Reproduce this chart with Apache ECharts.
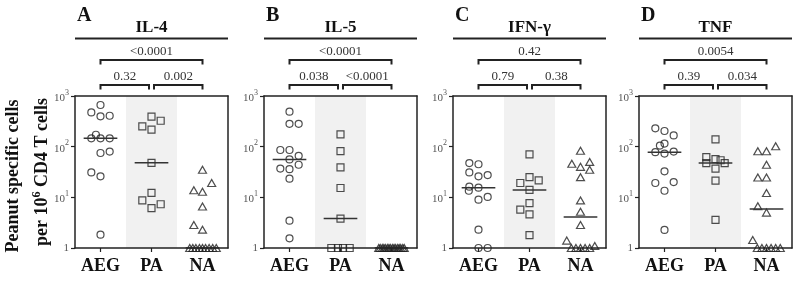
<!DOCTYPE html>
<html>
<head>
<meta charset="utf-8">
<script src="https://cdn.jsdelivr.net/npm/echarts@6/dist/echarts.min.js"></script>
<style>
html, body { margin: 0; padding: 0; background: #fff; }
#main { width: 800px; height: 281px; }
</style>
</head>
<body>
<div id="main"></div>
<script>
const chartDom = document.getElementById('main');
const myChart = echarts.init(chartDom);

// groups on the x axis
const cats = ['AEG', 'PA', 'NA'];
const letters = ['A', 'B', 'C', 'D'];
const cytokines = ['IL-4', 'IL-5', 'IFN-γ', 'TNF'];

// each point: [offset inside its group, peanut specific cells per 10^6 CD4 T cells]
const il4AEG = [[0, 665], [-0.18, 475], [0, 397], [0.18, 408], [-0.09, 172], [-0.18, 146], [0, 146], [0.18, 146],
	[0, 75], [0.18, 80], [-0.18, 31], [0, 26], [0, 1.83]];
const il4PA = [[0, 390], [0.18, 325], [-0.18, 251], [0, 216], [0, 48], [0, 12.2], [-0.18, 8.7], [0.18, 7.3], [0, 6.1]];
const il4NA = [[0, 35], [0.18, 19.2], [-0.17, 13.8], [0, 12.9], [0, 6.6], [-0.17, 2.85], [0, 2.3],
	[-0.25, 1], [-0.19, 1], [-0.13, 1], [-0.06, 1], [0, 1], [0.06, 1], [0.13, 1], [0.2, 1], [0.27, 1]];

const il5AEG = [[0, 490], [0, 283], [0.18, 283], [-0.18, 86], [0, 86], [0.18, 66], [0, 56], [-0.18, 37], [0, 36],
	[0.18, 44], [0, 23.3], [0, 3.46], [0, 1.55]];
const il5PA = [[0, 175], [0, 82], [0, 39], [0, 15.3], [0, 3.8], [-0.18, 1], [-0.05, 1], [0.05, 1], [0.18, 1]];
const il5NA = [[-0.25, 1], [-0.22, 1], [-0.18, 1], [-0.15, 1], [-0.12, 1], [-0.08, 1], [-0.05, 1], [-0.02, 1],
	[0.02, 1], [0.05, 1], [0.08, 1], [0.12, 1], [0.15, 1], [0.18, 1], [0.22, 1], [0.25, 1]];

const ifngAEG = [[-0.18, 47.5], [0, 45], [-0.18, 31], [0, 26], [0.18, 27.5], [-0.18, 16.2], [0, 15.5], [-0.19, 13.5],
	[0, 9], [0.18, 10.2], [0, 2.3], [0, 1], [0.18, 1]];
const ifngPA = [[0, 70.5], [0, 25], [-0.18, 19.2], [0.18, 21.7], [0, 14], [0, 7.7], [-0.18, 5.7], [0, 4.6], [0, 1.8]];
const ifngNA = [[0, 83], [-0.17, 46], [0, 40], [0.18, 50], [0.18, 35], [0, 25], [0, 8.7], [0, 5.2], [0, 2.85],
	[-0.27, 1.4], [-0.18, 1], [-0.09, 1], [0, 1], [0.09, 1], [0.18, 1], [0.28, 1.1]];

const tnfAEG = [[-0.18, 230], [0, 204], [0.18, 167], [-0.09, 105], [0, 115], [-0.18, 78], [0, 73], [0.18, 80],
	[0, 32.6], [-0.18, 19.2], [0.18, 20], [0, 13.5], [0, 2.27]];
const tnfPA = [[0, 139], [-0.18, 62], [0, 57], [0.1, 54], [-0.18, 47.5], [0.18, 47.5], [0, 37], [0, 21.3], [0, 3.6]];
const tnfNA = [[0.18, 102], [-0.17, 81], [0, 81], [0, 44], [-0.17, 24.7], [0, 24.7], [0, 12.2], [-0.17, 6.7], [0, 5.0],
	[-0.27, 1.44], [-0.18, 1], [-0.09, 1], [0, 1], [0.09, 1], [0.18, 1], [0.27, 1]];

// medians per group (AEG, PA, NA)
const il4Med = [146, 48, 1];
const il5Med = [56, 3.8, 1];
const ifngMed = [15.5, 14, 4.1];
const tnfMed = [78, 47.5, 5.9];

// p values: AEG vs NA (top), AEG vs PA, PA vs NA
const pTop = ['<0.0001', '<0.0001', '0.42', '0.0054'];
const pAegPa = ['0.32', '0.038', '0.79', '0.39'];
const pPaNa = ['0.002', '<0.0001', '0.38', '0.034'];

const panelData = [
	[il4AEG, il4PA, il4NA, il4Med],
	[il5AEG, il5PA, il5NA, il5Med],
	[ifngAEG, ifngPA, ifngNA, ifngMed],
	[tnfAEG, tnfPA, tnfNA, tnfMed]
];

const gridLefts = [75, 264, 453, 639];
const serif = '"Liberation Serif", "Times New Roman", serif';
const ink = '#222';
const symbols = ['circle', 'rect', 'triangle'];
const symbolSizes = [7, 7, [8, 7]];

const grids = [], xAxes = [], yAxes = [], series = [];

panelData.forEach((pd, i) => {
	grids.push({ left: gridLefts[i], top: 96, width: 153, height: 152 });
	xAxes.push({
		type: 'category', gridIndex: i, data: cats, boundaryGap: true, position: 'bottom', z: 5,
		axisLine: { show: true, lineStyle: { color: ink, width: 1.5 } },
		axisTick: { show: true, alignWithLabel: true, length: 4, lineStyle: { color: ink, width: 1.2 } },
		axisLabel: { fontFamily: serif, fontWeight: 'bold', fontSize: 18, color: '#111', margin: 9 },
		splitLine: { show: false }
	});
	xAxes.push({
		type: 'value', gridIndex: i, min: 0, max: 3, position: 'top', z: 5,
		axisLine: { show: true, lineStyle: { color: ink, width: 1.5 } },
		axisTick: { show: false }, axisLabel: { show: false }, splitLine: { show: false }
	});
	yAxes.push({
		type: 'log', logBase: 10, gridIndex: i, min: 1, max: 1000, position: 'left', z: 5,
		axisLine: { show: true, lineStyle: { color: ink, width: 1.5 } },
		axisTick: { show: true, length: 4, lineStyle: { color: ink, width: 1.2 } },
		axisLabel: {
			margin: 6,
			formatter: (v) => v === 1 ? '{n|1}' : '{n|10}{s|' + Math.round(Math.log10(v)) + '}',
			rich: {
				n: { fontFamily: serif, fontSize: 11, color: '#555', verticalAlign: 'bottom' },
				s: { fontFamily: serif, fontSize: 8, color: '#555', verticalAlign: 'bottom', padding: [0, 0, 7, 0] }
			}
		},
		splitLine: { show: false }, minorTick: { show: false }
	});
	yAxes.push({
		type: 'log', logBase: 10, gridIndex: i, min: 1, max: 1000, position: 'right', z: 5,
		axisLine: { show: true, lineStyle: { color: ink, width: 1.5 } },
		axisTick: { show: false }, axisLabel: { show: false }, splitLine: { show: false }
	});

	for (let g = 0; g < 3; g++) {
		const s = {
			type: 'scatter', name: cytokines[i] + ' ' + cats[g],
			xAxisIndex: 2 * i + 1, yAxisIndex: 2 * i, clip: false, z: 3,
			symbol: symbols[g], symbolSize: symbolSizes[g],
			itemStyle: { color: 'rgba(0,0,0,0)', borderColor: '#222', borderWidth: 1.2 },
			data: pd[g].map(p => [g + 0.5 + p[0], p[1]])
		};
		if (g === 1) {
			s.markArea = {
				silent: true, z: 1,
				itemStyle: { color: '#f1f1f1' },
				data: [[{ xAxis: 1 }, { xAxis: 2 }]]
			};
		}
		series.push(s);
		series.push({
			type: 'line', xAxisIndex: 2 * i + 1, yAxisIndex: 2 * i, z: 4,
			symbol: 'none', silent: true,
			lineStyle: { color: '#333', width: 1.5 },
			data: [[g + 0.17, pd[3][g]], [g + 0.83, pd[3][g]]]
		});
	}
});

option = {
	backgroundColor: '#fff',
	animation: false,
	grid: grids,
	xAxis: xAxes,
	yAxis: yAxes,
	series: series
};
myChart.setOption(option);

// titles, brackets and p values placed from the axis scales
const gfx = [];
const bracket = (x1, x2, y, y2) => ({
	type: 'polyline',
	shape: { points: [[x1, y2], [x1, y], [x2, y], [x2, y2]] },
	style: { stroke: ink, lineWidth: 2, fill: null }
});
const label = (x, y, text, size, bold, align) => ({
	type: 'text', x: x, y: y,
	style: {
		text: text, fill: bold ? '#111' : '#333', align: align || 'center', verticalAlign: 'middle',
		font: (bold ? 'bold ' : '') + size + 'px ' + serif
	}
});

for (let i = 0; i < 4; i++) {
	const px = c => myChart.convertToPixel({ xAxisIndex: 2 * i + 1 }, c);
	const x0 = px(0), x3 = px(3), xa = px(0.5), xp = px(1.5), xn = px(2.5);
	gfx.push(label(x0 + 2, 16, letters[i], 20, true, 'left'));
	gfx.push(label(xp, 28, cytokines[i], 17, true));
	gfx.push({ type: 'line', shape: { x1: x0, y1: 38.5, x2: x3, y2: 38.5 }, style: { stroke: ink, lineWidth: 2 } });
	gfx.push(bracket(xa, xn, 60, 64.5));
	gfx.push(label(xp, 52, pTop[i], 13, false));
	gfx.push(bracket(xa, xp - 2.5, 85, 89.5));
	gfx.push(label((xa + xp - 2.5) / 2, 76.5, pAegPa[i], 13, false));
	gfx.push(bracket(xp + 2.5, xn, 85, 89.5));
	gfx.push(label((xp + 2.5 + xn) / 2, 76.5, pPaNa[i], 13, false));
}

gfx.push({
	type: 'text', x: 13, y: 176, rotation: Math.PI / 2,
	style: { text: 'Peanut specific cells', fill: '#111', align: 'center', verticalAlign: 'middle', font: 'bold 18px ' + serif }
});
gfx.push({
	type: 'text', x: 41, y: 172, rotation: Math.PI / 2,
	style: {
		text: '{a|per 10}{s|6}{a| CD4 T cells}', align: 'center', verticalAlign: 'middle',
		rich: {
			a: { fontFamily: serif, fontWeight: 'bold', fontSize: 18, fill: '#111', color: '#111', verticalAlign: 'bottom' },
			s: { fontFamily: serif, fontWeight: 'bold', fontSize: 12, fill: '#111', color: '#111', verticalAlign: 'bottom', padding: [0, 0, 8, 0] }
		}
	}
});

myChart.setOption({ graphic: gfx });
</script>
</body>
</html>
